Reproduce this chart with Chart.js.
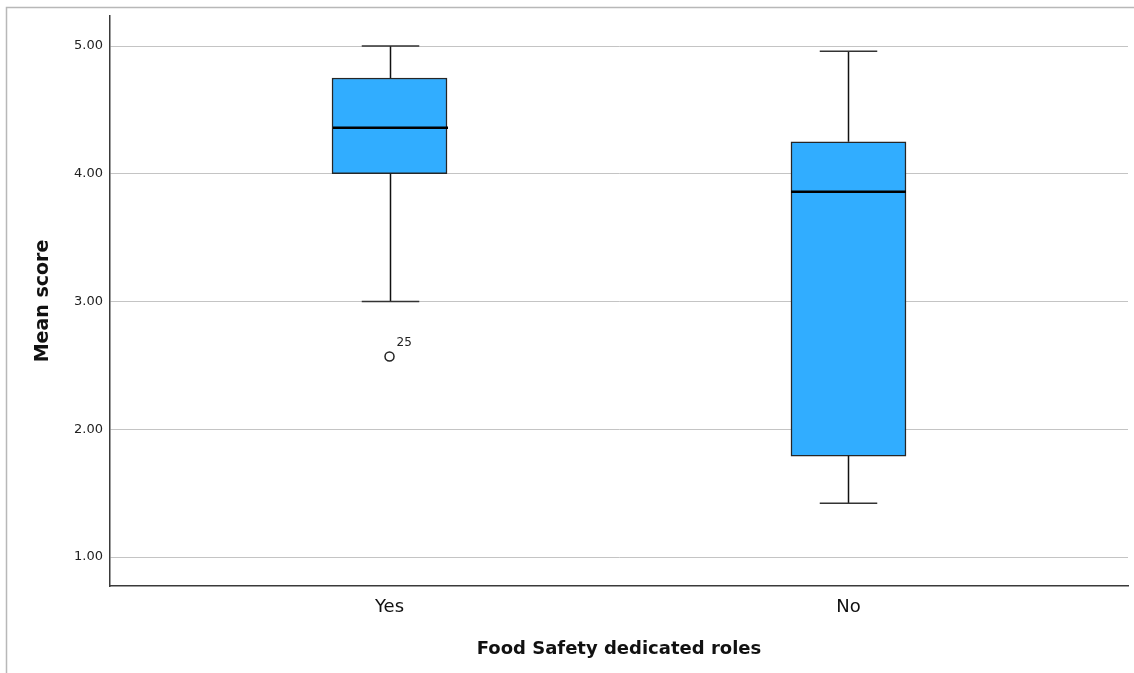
<!DOCTYPE html>
<html>
<head>
<meta charset="utf-8">
<script src="https://cdn.jsdelivr.net/npm/chart.js@4/dist/chart.umd.min.js"></script>
<style>
  html, body { margin: 0; padding: 0; background: #fff; }
  #wrap { width: 1134px; height: 673px; }
</style>
</head>
<body>
<div id="wrap"><canvas id="box-chart"></canvas></div>
<script>
const groups = ['Yes', 'No'];
const whiskerLow = [3.00, 1.42];
const q1 = [4.00, 1.79];
const median = [4.36, 3.86];
const q3 = [4.75, 4.25];
const whiskerHigh = [5.00, 4.96];
const outlierGroup = [0];
const outlierValue = [2.57];
const outlierLabel = ['25'];
const yTicks = [1, 2, 3, 4, 5];

const BOX_WIDTH = 115;

// whiskers, caps, medians and the outlier case number
const boxExtras = {
  id: 'boxExtras',
  beforeDraw(chart) {
    const ctx = chart.ctx;
    ctx.save();
    ctx.strokeStyle = '#b8b8b8';
    ctx.lineWidth = 1.5;
    ctx.beginPath();
    ctx.moveTo(6.5, chart.height);
    ctx.lineTo(6.5, 7.5);
    ctx.lineTo(chart.width, 7.5);
    ctx.stroke();
    ctx.restore();
  },
  afterDatasetsDraw(chart) {
    const ctx = chart.ctx;
    const xs = chart.scales.x;
    const ys = chart.scales.y;
    ctx.save();
    groups.forEach((g, i) => {
      const cx = Math.round(xs.getPixelForValue(i)) + 0.5;
      const half = BOX_WIDTH / 2;
      const cap = BOX_WIDTH / 4;
      ctx.strokeStyle = '#111';
      ctx.lineWidth = 1.5;
      ctx.beginPath();
      ctx.moveTo(cx, ys.getPixelForValue(q3[i]));
      ctx.lineTo(cx, ys.getPixelForValue(whiskerHigh[i]));
      ctx.moveTo(cx, ys.getPixelForValue(q1[i]));
      ctx.lineTo(cx, ys.getPixelForValue(whiskerLow[i]));
      ctx.stroke();

      ctx.strokeStyle = '#333';
      ctx.beginPath();
      ctx.moveTo(cx - cap, ys.getPixelForValue(whiskerHigh[i]));
      ctx.lineTo(cx + cap, ys.getPixelForValue(whiskerHigh[i]));
      ctx.moveTo(cx - cap, ys.getPixelForValue(whiskerLow[i]));
      ctx.lineTo(cx + cap, ys.getPixelForValue(whiskerLow[i]));
      ctx.stroke();

      ctx.strokeStyle = '#000';
      ctx.lineWidth = 2.5;
      ctx.beginPath();
      ctx.moveTo(cx - half, ys.getPixelForValue(median[i]));
      ctx.lineTo(cx + half, ys.getPixelForValue(median[i]));
      ctx.stroke();
    });

    ctx.fillStyle = '#222';
    ctx.font = '12px "DejaVu Sans"';
    ctx.textAlign = 'left';
    ctx.textBaseline = 'middle';
    outlierGroup.forEach((gi, k) => {
      const px = xs.getPixelForValue(gi);
      const py = ys.getPixelForValue(outlierValue[k]);
      ctx.fillText(outlierLabel[k], px + 7, py - 14);
    });
    ctx.restore();
  }
};

new Chart(document.getElementById('box-chart'), {
  type: 'bar',
  data: {
    datasets: [
      {
        label: 'Box',
        data: groups.map((g, i) => ({ x: i, y: [q1[i], q3[i]] })),
        backgroundColor: '#31adff',
        borderColor: '#262626',
        borderWidth: 1.5,
        borderSkipped: false,
        barThickness: BOX_WIDTH
      },
      {
        type: 'scatter',
        label: 'Outliers',
        data: outlierGroup.map((gi, k) => ({ x: gi, y: outlierValue[k] })),
        pointStyle: 'circle',
        pointRadius: 4.5,
        backgroundColor: '#fff',
        borderColor: '#222',
        borderWidth: 1.5
      }
    ]
  },
  options: {
    responsive: true,
    maintainAspectRatio: false,
    animation: false,
    layout: { padding: { left: 0, top: 16, right: 6, bottom: 0 } },
    plugins: {
      legend: { display: false },
      tooltip: { enabled: false }
    },
    scales: {
      x: {
        type: 'linear',
        offset: false,
        min: -0.609,
        max: 1.609,
        afterBuildTicks: s => { s.ticks = groups.map((g, i) => ({ value: i })); },
        afterFit: s => { s.height = 87; },
        ticks: {
          callback: v => groups[v],
          font: { family: 'DejaVu Sans', size: 18 },
          color: '#111',
          padding: 11,
          maxRotation: 0
        },
        grid: { display: false, drawTicks: false },
        border: { display: true, color: '#3a3a3a', width: 1.5 },
        title: {
          display: true,
          text: 'Food Safety dedicated roles',
          font: { family: 'DejaVu Sans', size: 18, weight: 'bold' },
          color: '#111',
          padding: { top: 0, bottom: 13 }
        }
      },
      y: {
        min: 0.773,
        max: 5.235,
        afterBuildTicks: s => { s.ticks = yTicks.map(v => ({ value: v })); },
        afterFit: s => { s.width = 110; },
        ticks: {
          callback: v => v.toFixed(2),
          font: { family: 'DejaVu Sans', size: 13 },
          color: '#222',
          padding: 7
        },
        grid: { color: '#c4c4c4', lineWidth: 1, drawTicks: false },
        border: { display: true, color: '#3a3a3a', width: 1.5 },
        title: {
          display: true,
          text: 'Mean score',
          font: { family: 'DejaVu Sans', size: 19, weight: 'bold' },
          color: '#111',
          padding: { top: 32, bottom: 0 }
        }
      }
    }
  },
  plugins: [boxExtras]
});
</script>
</body>
</html>
